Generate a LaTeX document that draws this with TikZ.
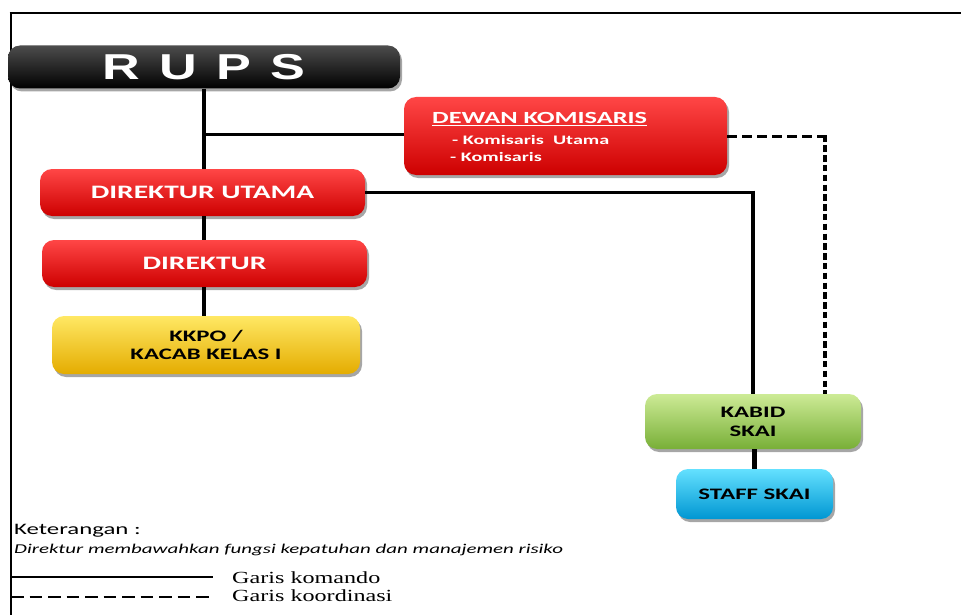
\documentclass[tikz,border=0pt]{standalone}
\usepackage{fontspec}
\setmainfont{Carlito}[FakeStretch=1.55]
\newfontfamily\garisfont{Liberation Serif}[FakeStretch=1.42]
\newfontfamily\rupsfont{Liberation Sans}[FakeStretch=1.45]
\usetikzlibrary{shadows}
\definecolor{redtop}{RGB}{255,70,70}
\definecolor{redmid}{RGB}{252,0,0}
\definecolor{redbot}{RGB}{205,0,0}
\definecolor{yeltop}{RGB}{255,232,100}
\definecolor{yelmid}{RGB}{255,210,0}
\definecolor{yelbot}{RGB}{228,172,0}
\definecolor{grntop}{RGB}{205,235,150}
\definecolor{grnmid}{RGB}{155,210,85}
\definecolor{grnbot}{RGB}{120,175,55}
\definecolor{blutop}{RGB}{100,225,255}
\definecolor{blumid}{RGB}{20,190,240}
\definecolor{blubot}{RGB}{0,150,210}
\tikzset{
  orgbox/.style={rounded corners=12pt, inner sep=0pt, align=center,
    drop shadow={shadow xshift=2pt, shadow yshift=-3pt, opacity=0.35, fill=black},
    font=\bfseries},
  redbox/.style={orgbox, top color=redtop, middle color=redmid, bottom color=redbot, text=white},
  blkbox/.style={orgbox, top color=black!70, middle color=black, bottom color=black, text=white},
  yelbox/.style={orgbox, top color=yeltop, middle color=yelmid, bottom color=yelbot, text=black},
  grnbox/.style={orgbox, top color=grntop, middle color=grnmid, bottom color=grnbot, text=black},
  blubox/.style={orgbox, top color=blutop, middle color=blumid, bottom color=blubot, text=black},
  cmdv/.style={line width=4.6pt},
  cmdh/.style={line width=3pt},
  coordh/.style={line width=3pt, dash pattern=on 10pt off 5pt},
  coordv/.style={line width=4.6pt, dash pattern=on 6.5pt off 3.3pt},
}
\begin{document}
\begin{tikzpicture}[x=1pt,y=-1pt]
\useasboundingbox (0,0) rectangle (961,615);
% frame
\draw[line width=2.6pt] (11,615) -- (11,13);
\draw[line width=1.8pt] (9.7,13) -- (961,13);

% nodes
\node[blkbox, minimum width=392pt, minimum height=43pt, font=\rupsfont\bfseries\fontsize{36}{36}\selectfont] (rups) at (204,67) {R\hspace{19pt}U\hspace{19pt}P\hspace{19pt}S};
\node[redbox, minimum width=323pt, minimum height=78pt] (dewan) at (565.5,136) {};
\node[text=white, font=\bfseries\fontsize{17}{17}\selectfont, anchor=west, inner sep=0pt] (dewant) at (432,119) {\underline{DEWAN KOMISARIS}};
\node[text=white, font=\bfseries\fontsize{13}{13}\selectfont, anchor=west, inner sep=0pt] (kom1) at (452,140) {- Komisaris\ \ Utama};
\node[text=white, font=\bfseries\fontsize{13}{13}\selectfont, anchor=west, inner sep=0pt] (kom2) at (450,157) {- Komisaris};
\node[redbox, minimum width=325pt, minimum height=47pt, font=\bfseries\fontsize{19}{19}\selectfont] (dirut) at (202.5,192.5) {DIREKTUR UTAMA};
\node[redbox, minimum width=325pt, minimum height=47pt, font=\bfseries\fontsize{19}{19}\selectfont] (dir) at (204.5,263.5) {DIREKTUR};
\node[yelbox, minimum width=308pt, minimum height=58pt, font=\bfseries\fontsize{16}{18}\selectfont] (kkpo) at (206,345) {KKPO /\\KACAB KELAS I};
\node[grnbox, minimum width=216pt, minimum height=55pt, font=\bfseries\fontsize{16}{19}\selectfont] (kabid) at (753,421.5) {KABID\\SKAI};
\node[blubox, minimum width=157pt, minimum height=50pt, font=\bfseries\fontsize{16}{19}\selectfont] (staff) at (754.5,494) {STAFF SKAI};

% connectors
\coordinate (j1) at (204,135);
\draw[cmdv] (rups.south -| j1) -- (dirut.north -| j1);
\draw[cmdh] ([xshift=2pt]j1) -- (dewan.west |- j1);
\draw[cmdv] (dirut.south -| j1) -- (dir.north -| j1);
\draw[cmdv] (dir.south -| j1) -- (kkpo.north -| j1);
\coordinate (j2) at (753,192);
\draw[cmdh] (dirut.east |- j2) -- ([xshift=2.3pt]j2);
\draw[cmdv] ([yshift=1.5pt]j2) -- (kabid.north -| j2);
\draw[cmdv] (kabid.south -| staff) -- (staff.north);
\coordinate (j3) at (825,137);
\draw[coordh] (dewan.east |- j3) -- ([xshift=2.3pt]j3);
\draw[coordv] ([yshift=1.5pt]j3) -- (kabid.north -| j3);

% legend
\node[anchor=west, inner sep=0pt, font=\fontsize{16}{16}\selectfont] (ket) at (14,531) {Keterangan :};
\node[anchor=west, inner sep=0pt, font=\itshape\fontsize{13.5}{13.5}\selectfont] (ketx) at (14,550) {Direktur membawahkan fungsi kepatuhan dan manajemen risiko};
\coordinate (l1a) at (11,577);
\coordinate (l1b) at (213,577);
\draw[line width=1.5pt] (l1a) -- (l1b);
\node[anchor=west, inner sep=0pt, font=\garisfont\fontsize{17}{17}\selectfont] (gk) at (232,578) {Garis komando};
\coordinate (l2a) at (11,597);
\coordinate (l2b) at (213,597);
\draw[line width=2pt, dash pattern=on 12.5pt off 6pt] (l2a) -- (l2b);
\node[anchor=west, inner sep=0pt, font=\garisfont\fontsize{17}{17}\selectfont] (gko) at (232,596) {Garis koordinasi};
\end{tikzpicture}
\end{document}
